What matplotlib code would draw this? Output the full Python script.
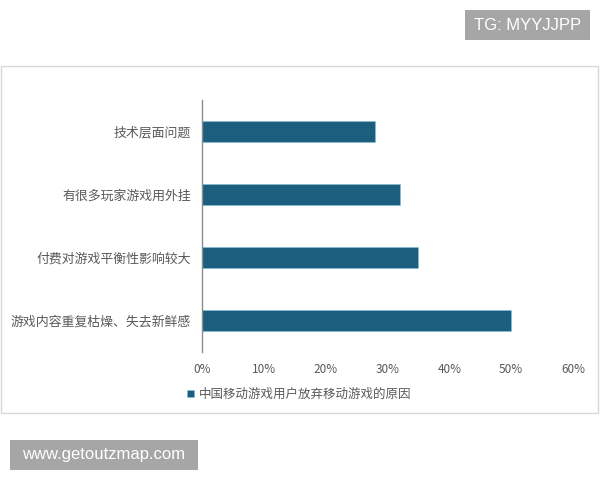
import matplotlib.pyplot as plt
from matplotlib.patches import Rectangle
from matplotlib.ticker import PercentFormatter

plt.rcParams['font.family'] = ['Noto Sans CJK SC', 'DejaVu Sans']

categories = ["游戏内容重复枯燥、失去新鲜感", "付费对游戏平衡性影响较大",
              "有很多玩家游戏用外挂", "技术层面问题"]
values = [50, 35, 32, 28]
series_name = "中国移动游戏用户放弃移动游戏的原因"
BAR = "#1b5e7e"
GREY = "#595959"

fig = plt.figure(figsize=(6, 4.8), dpi=100)
W, H = 600, 480

def fx(px):
    return px / W

def fy(py):
    return 1 - py / H

def box(x0, y0, x1, y1, **kw):
    fig.patches.append(Rectangle((fx(x0), fy(y1)), (x1 - x0) / W, (y1 - y0) / H,
                                 transform=fig.transFigure, **kw))

# chart border
box(1, 66, 598, 413, fill=False, edgecolor="#d9d9d9", lw=1)

ax = fig.add_axes([fx(202), fy(352), fx(573 - 202), (352 - 100) / H])
ax.barh(range(len(categories)), values, height=0.32, color=BAR,
        edgecolor="#7fc3e0", linewidth=0.4, label=series_name)
ax.set_yticks(range(len(categories)))
ax.set_yticklabels(categories, fontsize=9.3, color=GREY)
ax.set_xlim(0, 60)
ax.set_ylim(-0.5, 3.5)
ax.set_xticks(range(0, 61, 10))
ax.xaxis.set_major_formatter(PercentFormatter(decimals=0))
ax.tick_params(axis="x", length=0, labelsize=8.5, labelcolor=GREY, pad=8)
ax.tick_params(axis="y", length=0, pad=8)
for s in ["top", "right", "bottom"]:
    ax.spines[s].set_visible(False)
ax.spines["left"].set_color("#8c8c8c")
ax.spines["left"].set_linewidth(1)

fig.legend(loc="center left", bbox_to_anchor=(fx(176), fy(394)),
           frameon=False, fontsize=9, handlelength=0.5, handleheight=0.5,
           handletextpad=0.4, labelcolor=GREY)

# watermark boxes
box(465, 10, 590, 40, facecolor="#a6a6a6", edgecolor="none")
fig.text(fx(527.5), fy(25), "TG: MYYJJPP", ha="center", va="center",
         color="white", fontsize=12, family="Liberation Sans")
box(10, 440, 198, 470, facecolor="#a6a6a6", edgecolor="none")
fig.text(fx(104), fy(455), "www.getoutzmap.com", ha="center", va="center",
         color="white", fontsize=12, family="Liberation Sans")

fig.savefig("out.png", dpi=100)
